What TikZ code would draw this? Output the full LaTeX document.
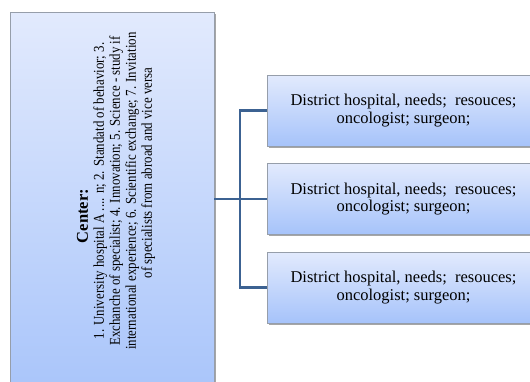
\documentclass[tikz,border=0pt]{standalone}
\usepackage{fontspec}
\setmainfont{Liberation Serif}
\usetikzlibrary{shadows}
\definecolor{boxtop}{RGB}{226,234,253}
\definecolor{boxbot}{RGB}{166,195,250}
\definecolor{boxedge}{RGB}{150,158,170}
\definecolor{linkblue}{RGB}{60,98,146}
% a condensed line of the centre panel's text
\newcommand{\narrowline}[1]{\scalebox{0.86}[1]{#1}}
\tikzset{
  panel/.style={draw=boxedge, line width=0.8pt, top color=boxtop, bottom color=boxbot,
    drop shadow={shadow xshift=1.5pt, shadow yshift=-1.5pt, fill=black, opacity=0.35}},
  leafbox/.style={panel, minimum width=273pt, minimum height=71pt, inner sep=0pt,
    align=center, font=\fontsize{16.5}{17.5}\selectfont},
  link/.style={draw=linkblue, line width=2.2pt, line join=miter}
}
\begin{document}
\begin{tikzpicture}[x=1pt, y=-1pt]
  \useasboundingbox (0,0) rectangle (530,381);
  \clip (0,0) rectangle (530,381);
  % tall centre panel, running off the bottom edge
  \node[panel, minimum width=204pt, minimum height=400pt, inner sep=0pt] (center) at (112,212) {};
  \node[rotate=90, align=center, inner sep=0pt, font=\fontsize{15}{16}\selectfont] (centertext) at (116,191)
    {\hbox{{\fontsize{16.5}{16}\selectfont\bfseries Center:}\kern50pt}\\
     \narrowline{1. University hospital A .... n; 2. Standatd of behavior; 3.}\\
     \narrowline{Exchanche of specialist; 4. Innovation; 5. Science - study if}\\
     \narrowline{international experience; 6. Scientific exchange; 7. Invitation}\\
     \hbox{\kern36pt\narrowline{of specialists from abroad and vice versa}}};
  % district hospitals
  \node[leafbox] (d1) at (403.5,110.5) {District hospital, needs;\ \ resouces;\\ oncologist; surgeon;};
  \node[leafbox] (d2) at (403.5,199) {District hospital, needs;\ \ resouces;\\ oncologist; surgeon;};
  \node[leafbox] (d3) at (403.5,287.5) {District hospital, needs;\ \ resouces;\\ oncologist; surgeon;};
  % connectors
  \coordinate (junction) at (240,199);
  \draw[link] (center.east |- d2.west) -- (d2.west);
  \draw[link] (d1.west) -| (junction) |- (d3.west);
\end{tikzpicture}
\end{document}
